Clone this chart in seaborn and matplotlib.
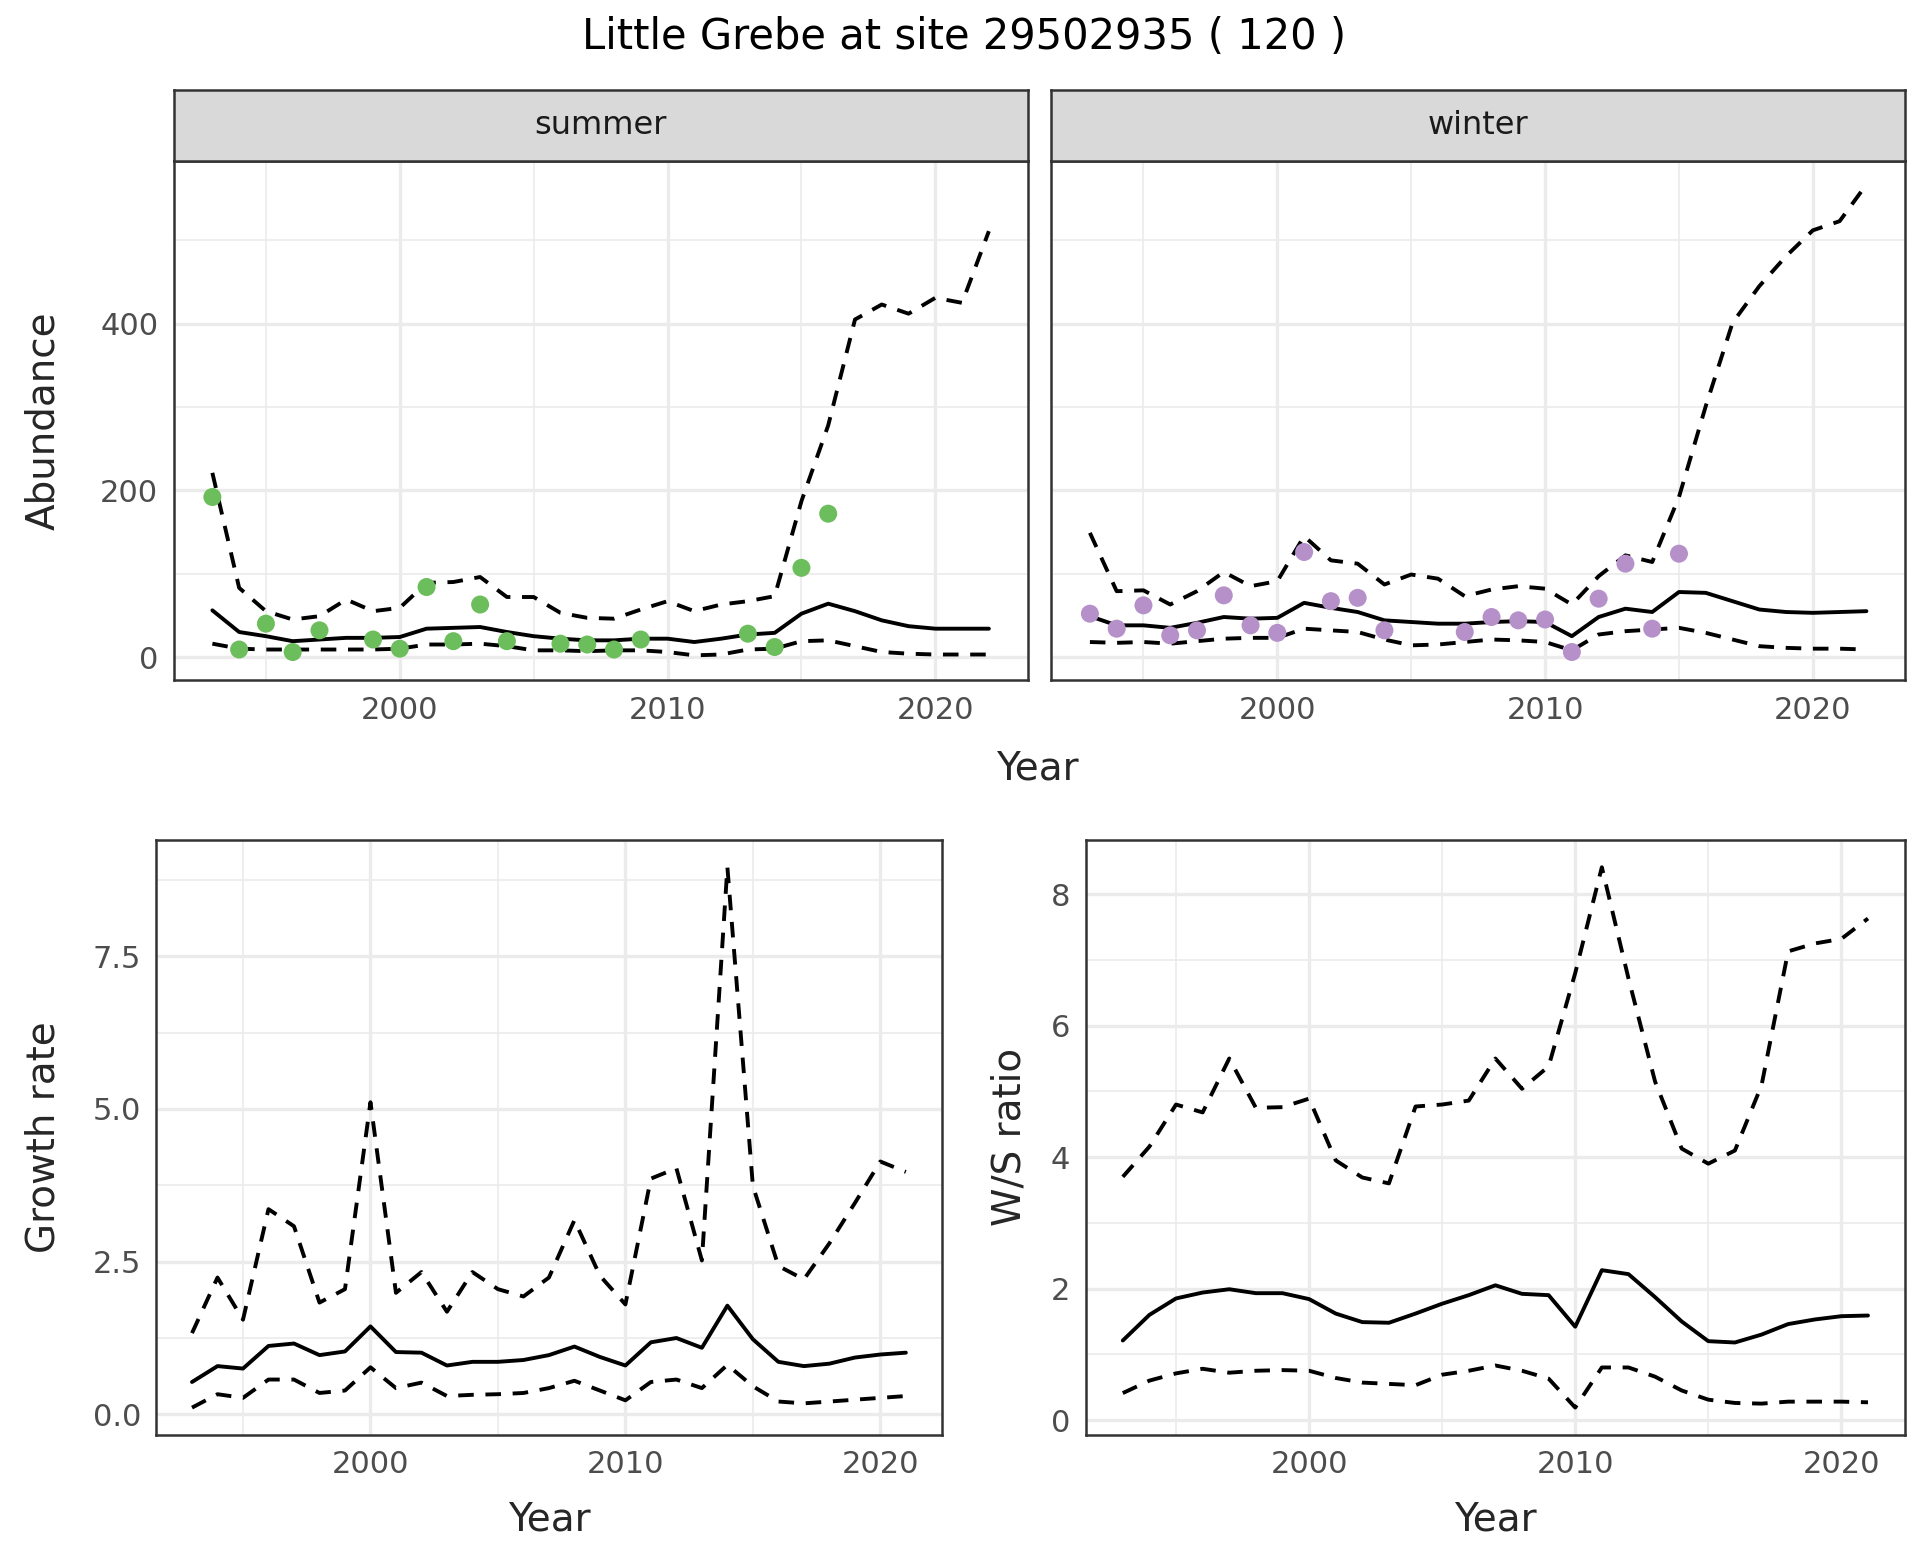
import numpy as np
import pandas as pd
import matplotlib
matplotlib.use("Agg")
import matplotlib.pyplot as plt
import seaborn as sns

nan = np.nan

# Years
years = list(range(1993, 2023))
years_ratio = list(range(1993, 2022))

# Abundance, summer
summer_obs = [192, 9, 40, 6, 32, nan, 21, 10, 84, 19, 63, 19, nan, 16, 15, 9, 21,
              nan, nan, nan, 28, 12, 107, 172, nan, nan, nan, nan, nan, nan]
summer_mid = [56, 30, 25, 19, 21, 23, 23, 24, 34, 35, 36, 30, 25, 22, 20, 20, 22,
              22, 18, 22, 27, 29, 52, 64, 55, 44, 37, 34, 34, 34]
summer_hi = [221, 83, 55, 45, 49, 69, 55, 59, 89, 90, 96, 72, 72, 53, 47, 46, 57,
             67, 55, 63, 67, 73, 187, 278, 405, 423, 412, 431, 425, 511]
summer_lo = [16, 10, 9, 9, 9, 9, 9, 10, 15, 15, 16, 13, 8, 8, 7, 8, 8,
             6, 2, 3, 9, 10, 19, 20, 13, 6, 4, 3, 3, 3]

# Abundance, winter
winter_obs = [52, 34, 62, 26, 32, 74, 38, 29, 126, 67, 71, 32, nan, nan, 30, 48, 44,
              45, 6, 70, 112, 34, 124, nan, nan, nan, nan, nan, nan, nan]
winter_mid = [49, 38, 38, 35, 41, 48, 46, 47, 65, 59, 54, 44, 42, 40, 40, 42, 43,
              42, 25, 48, 58, 54, 78, 77, 67, 57, 54, 53, 54, 55]
winter_hi = [149, 79, 80, 63, 79, 102, 85, 91, 145, 116, 112, 87, 99, 94, 73, 81, 85,
             82, 63, 97, 122, 114, 192, 301, 401, 445, 481, 512, 523, 567]
winter_lo = [18, 17, 18, 16, 19, 22, 23, 23, 34, 32, 30, 21, 14, 15, 18, 21, 20,
             18, 8, 27, 31, 33, 35, 29, 21, 13, 11, 10, 10, 9]

# Growth rate
growth_mid = [0.53, 0.79, 0.75, 1.12, 1.16, 0.97, 1.03, 1.44, 1.02, 1.01, 0.80, 0.86,
              0.86, 0.89, 0.97, 1.11, 0.94, 0.80, 1.18, 1.25, 1.09, 1.78, 1.23, 0.86,
              0.79, 0.83, 0.93, 0.98, 1.01]
growth_hi = [1.33, 2.24, 1.55, 3.36, 3.08, 1.83, 2.05, 5.11, 1.99, 2.33, 1.68, 2.33,
             2.05, 1.93, 2.24, 3.18, 2.27, 1.80, 3.86, 4.03, 2.52, 8.96, 3.74, 2.43,
             2.21, 2.80, 3.46, 4.14, 3.97]
growth_lo = [0.11, 0.33, 0.27, 0.57, 0.57, 0.35, 0.39, 0.77, 0.43, 0.52, 0.30, 0.32,
             0.33, 0.35, 0.43, 0.55, 0.39, 0.23, 0.53, 0.57, 0.43, 0.81, 0.46, 0.21,
             0.18, 0.21, 0.24, 0.27, 0.30]

# Winter/summer ratio
ws_mid = [1.21, 1.60, 1.85, 1.94, 1.99, 1.93, 1.93, 1.84, 1.62, 1.49, 1.48, 1.62,
          1.77, 1.90, 2.05, 1.92, 1.90, 1.42, 2.28, 2.22, 1.87, 1.50, 1.20, 1.18,
          1.30, 1.46, 1.53, 1.58, 1.59]
ws_hi = [3.70, 4.16, 4.80, 4.68, 5.50, 4.75, 4.76, 4.89, 3.95, 3.69, 3.60, 4.77,
         4.80, 4.86, 5.50, 5.04, 5.38, 6.80, 8.41, 6.72, 5.15, 4.13, 3.90, 4.10,
         5.09, 7.13, 7.25, 7.32, 7.63]
ws_lo = [0.41, 0.60, 0.71, 0.78, 0.72, 0.75, 0.76, 0.75, 0.64, 0.57, 0.55, 0.53,
         0.69, 0.75, 0.83, 0.75, 0.63, 0.19, 0.80, 0.80, 0.66, 0.45, 0.31, 0.26,
         0.25, 0.28, 0.28, 0.28, 0.27]

sns.set_style("white")
plt.rcParams["font.family"] = ["DejaVu Sans"]

fig = plt.figure(figsize=(9.6, 7.8), dpi=200)

W, H = 1560.0, 1268.0
def box(x0, y0, x1, y1):
    return [x0 / W, 1 - y1 / H, (x1 - x0) / W, (y1 - y0) / H]

border = "#333333"
tick_col = "#4D4D4D"
LW = 1.4
DASH = (4, 3)

def style_axes(ax, xmaj, xmin, ymaj, ymin, xlim, ylim, ylabels=True):
    ax.set_xlim(*xlim)
    ax.set_ylim(*ylim)
    ax.set_xticks(xmaj)
    ax.set_xticks(xmin, minor=True)
    ax.set_yticks(ymaj)
    ax.set_yticks(ymin, minor=True)
    ax.grid(which="major", color="#EBEBEB", linewidth=1.2)
    ax.grid(which="minor", color="#EBEBEB", linewidth=0.6)
    ax.set_axisbelow(True)
    for s in ax.spines.values():
        s.set_color(border)
        s.set_linewidth(0.9)
    ax.tick_params(which="major", length=3.5, width=0.9, color=border,
                   labelcolor=tick_col, labelsize=11, pad=2)
    ax.tick_params(which="minor", length=0)
    if not ylabels:
        ax.tick_params(axis="y", which="major", labelleft=False)
    ax.set_xlabel("")
    ax.set_ylabel("")

def draw_band(ax, x, mid, hi, lo):
    df = pd.DataFrame({"year": x, "mid": mid, "hi": hi, "lo": lo})
    sns.lineplot(data=df, x="year", y="mid", ax=ax, color="black", linewidth=LW)
    for col in ["hi", "lo"]:
        sns.lineplot(data=df, x="year", y=col, ax=ax, color="black",
                     linewidth=LW).lines[-1].set_dashes(DASH)

# Top panels: abundance
top_ylim = (-28, 595)
top_xlim = (1991.55, 2023.45)
panels = [
    ("summer", box(141, 131, 835, 553), summer_obs, summer_mid, summer_hi, summer_lo, "#6CBD5B", True),
    ("winter", box(854, 131, 1548, 553), winter_obs, winter_mid, winter_hi, winter_lo, "#B690C9", False),
]
for name, rect, obs, mid, hi, lo, col, ylab in panels:
    ax = fig.add_axes(rect)
    draw_band(ax, years, mid, hi, lo)
    pts = pd.DataFrame({"year": years, "obs": obs}).dropna()
    sns.scatterplot(data=pts, x="year", y="obs", ax=ax, color=col, s=42,
                    edgecolor="none", zorder=5)
    style_axes(ax, [2000, 2010, 2020], [1995, 2005, 2015],
               [0, 200, 400], [100, 300, 500], top_xlim, top_ylim, ylab)
    # facet strip
    sx = fig.add_axes([rect[0], rect[1] + rect[3], rect[2], 58 / H])
    sx.set_facecolor("#D9D9D9")
    sx.set_xticks([])
    sx.set_yticks([])
    for s in sx.spines.values():
        s.set_color(border)
        s.set_linewidth(0.9)
    sx.text(0.5, 0.5, name, ha="center", va="center", fontsize=11.5,
            color="#1A1A1A", transform=sx.transAxes)

# Bottom-left: growth rate
ax3 = fig.add_axes(box(127, 683, 765, 1166))
draw_band(ax3, years_ratio, growth_mid, growth_hi, growth_lo)
style_axes(ax3, [2000, 2010, 2020], [1995, 2005, 2015],
           [0.0, 2.5, 5.0, 7.5], [1.25, 3.75, 6.25, 8.75],
           (1991.6, 2022.4), (-0.33, 9.4))
ax3.set_yticklabels(["0.0", "2.5", "5.0", "7.5"])

# Bottom-right: W/S ratio
ax4 = fig.add_axes(box(882, 683, 1548, 1166))
draw_band(ax4, years_ratio, ws_mid, ws_hi, ws_lo)
style_axes(ax4, [2000, 2010, 2020], [1995, 2005, 2015],
           [0, 2, 4, 6, 8], [1, 3, 5, 7],
           (1991.6, 2022.4), (-0.22, 8.82))

# Titles and axis labels
fig.text(783 / W, 1 - 30 / H, "Little Grebe at site 29502935 ( 120 )",
         ha="center", va="center", fontsize=15, color="black")
fig.text(843 / W, 1 - 625 / H, "Year", ha="center", va="center", fontsize=14)
fig.text(35 / W, 1 - 342 / H, "Abundance", ha="center", va="center",
         rotation=90, fontsize=14)
fig.text(446 / W, 1 - 1235 / H, "Year", ha="center", va="center", fontsize=14)
fig.text(1215 / W, 1 - 1235 / H, "Year", ha="center", va="center", fontsize=14)
fig.text(35 / W, 1 - 924 / H, "Growth rate", ha="center", va="center",
         rotation=90, fontsize=14)
fig.text(820 / W, 1 - 924 / H, "W/S ratio", ha="center", va="center",
         rotation=90, fontsize=14)

fig.savefig("out.png", dpi=200)
